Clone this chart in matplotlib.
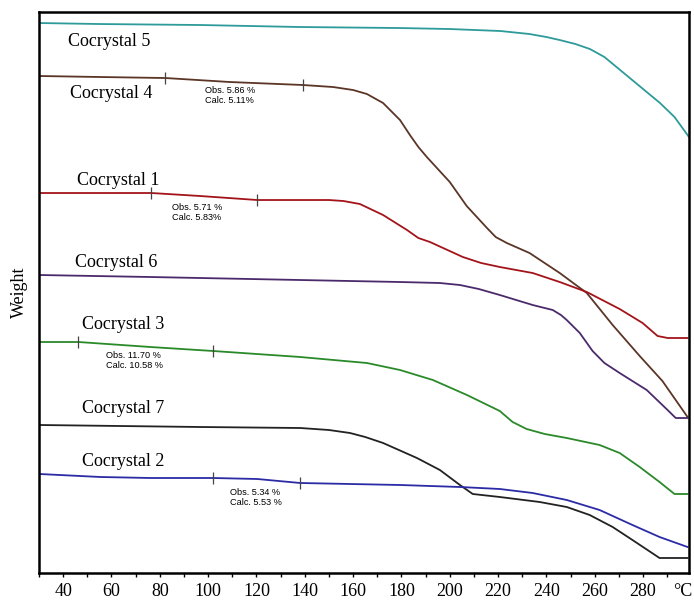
import matplotlib
matplotlib.use("Agg")
import matplotlib.pyplot as plt
from matplotlib.ticker import MultipleLocator

# TGA traces, temperature in degC and weight in arbitrary (stacked) units
t5 = [30, 55, 97, 138, 179, 200, 221, 233, 240, 245.5, 252, 258, 264, 270, 280,
      287, 293, 299]
w5 = [550, 549, 548, 546, 545, 544, 542, 539, 536, 533, 529, 524, 516, 504, 484,
      470, 456, 436]

t4 = [30.5, 55.5, 82.3, 109, 139.3, 151.7, 160, 165.7, 172.4, 179.4, 183.5, 187,
      190.5, 200, 207, 215.4, 219, 223.6, 233, 245.5, 256.7, 267.4, 278.6, 288, 298.4]
w4 = [497, 496, 495, 491, 488, 486, 483, 479, 470, 453, 438, 426,
      416, 391, 367, 345, 336, 330, 320, 300, 280, 248, 217, 192, 156]

t1 = [30.6, 76.5, 96.7, 120.3, 150, 156, 162.8, 172.4, 182.3, 187, 191.8, 205.4,
      213, 220.7, 234.3, 245.5, 256.7, 270.3, 279.8, 286.0, 290.2, 298.4]
w1 = [380, 380, 377, 373, 373, 372, 369, 358, 343, 335, 331, 316,
      310, 306, 300, 291, 281, 264, 250, 237, 235, 235]

t6 = [30.2, 76.1, 138.1, 179.4, 195.9, 204.2, 212, 220.7, 234.3, 242.6, 246,
      248.4, 253.8, 259.1, 264, 270.3, 281.5, 289.7, 293.5, 298.4]
w6 = [298, 296, 293, 291, 290, 288, 284, 278, 268, 263, 258,
      253, 240, 222, 210, 200, 183, 164, 155, 155]

t3 = [30.2, 46.3, 76.1, 102.1, 138.1, 165.7, 179.4, 193.0, 207.1, 220.7, 226.0,
      231.8, 239.3, 248.4, 262.0, 270.3, 278.6, 286.8, 293.0, 298.4]
w3 = [231, 231, 226, 222, 216, 210, 203, 193, 178, 162, 151,
      144, 139, 135, 128, 120, 106, 91, 79, 79]

t7 = [30.2, 96.7, 138.1, 150, 158.7, 165, 172.4, 186.4, 195.9, 204.2, 209.5, 220.7,
      237.2, 248.4, 257.9, 267.4, 275.6, 286.8, 298.4]
w7 = [148, 146, 145, 143, 140, 136, 130, 115, 103, 88, 79, 76,
      71, 66, 58, 46, 33, 15, 15]

t2 = [30.2, 55.4, 76.1, 102.1, 120.3, 138.1, 179.4, 204.2, 220.7, 234.3, 248.4,
      262.0, 275.6, 286.8, 298.4]
w2 = [99, 96, 95, 95, 94, 90, 88, 86, 84, 80, 73, 63, 48, 36, 26]

# step markers (temperature, weight) on the curves
steps4 = ([82.3, 139.3], [495, 488])
steps1 = ([76.5, 120.3], [380, 373])
steps3 = ([46.3, 102.1], [231, 222])
steps2 = ([102.1, 138.1], [95, 90])

series = [
    ("Cocrystal 5", t5, w5, "#2e9a9a", (41.8, 532)),
    ("Cocrystal 4", t4, w4, "#5b3526", (43.0, 480)),
    ("Cocrystal 1", t1, w1, "#a3141a", (45.9, 393)),
    ("Cocrystal 6", t6, w6, "#4b2a6c", (45.0, 311)),
    ("Cocrystal 3", t3, w3, "#2a8a2a", (48.0, 249)),
    ("Cocrystal 7", t7, w7, "#222222", (48.0, 165)),
    ("Cocrystal 2", t2, w2, "#2b2ba6", (48.0, 111)),
]

notes = [
    ("Obs. 5.86 %\nCalc. 5.11%", (98.5, 487)),
    ("Obs. 5.71 %\nCalc. 5.83%", (85.2, 370)),
    ("Obs. 11.70 %\nCalc. 10.58 %", (57.9, 222)),
    ("Obs. 5.34 %\nCalc. 5.53 %", (109.2, 85)),
]

serif = ["Liberation Serif", "DejaVu Serif"]
sans = ["Liberation Sans", "DejaVu Sans"]

fig = plt.figure(figsize=(6.94, 6.01), dpi=100)
ax = fig.add_axes([0.0562, 0.0466, 0.9366, 0.9334])

for name, t, w, col, (lx, ly) in series:
    ax.plot(t, w, color=col, lw=1.3, solid_joinstyle="round")
    ax.text(lx, ly, name, family=serif, fontsize=13, va="center", ha="left")

for tx, wy in (steps4, steps1, steps3, steps2):
    ax.plot(tx, wy, ls="none", marker="|", ms=9, mew=0.9, color="#444444")

for txt, (nx, ny) in notes:
    ax.text(nx, ny, txt, family=sans, fontsize=6.6, va="top", ha="left",
            linespacing=1.1)

ax.set_xlim(30, 299)
ax.set_ylim(0, 561)
ax.xaxis.set_major_locator(MultipleLocator(20))
ax.xaxis.set_minor_locator(MultipleLocator(10))
ax.set_yticks([])
ax.tick_params(axis="x", which="both", direction="out", length=3, width=1,
               pad=4, labelsize=13)
for lab in ax.get_xticklabels():
    lab.set_family(serif)
for sp in ax.spines.values():
    sp.set_linewidth(1.8)

ax.set_ylabel("Weight", family=serif, fontsize=13, labelpad=8)
fig.text(683 / 694, 1 - 591 / 601, "\u00b0C", family=serif, fontsize=13,
         ha="center", va="center")

plt.savefig("out.png", dpi=100)
